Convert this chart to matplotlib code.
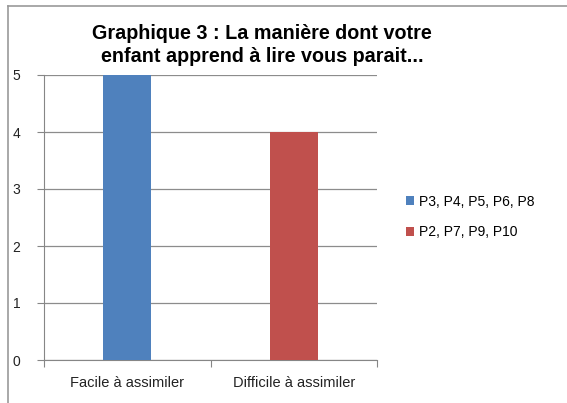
import matplotlib
matplotlib.use('Agg')
import matplotlib.pyplot as plt
from matplotlib.lines import Line2D
from matplotlib.patches import Patch

categories = ['Facile à assimiler', 'Difficile à assimiler']
series_names = ['P3, P4, P5, P6, P8', 'P2, P7, P9, P10']
values = [5, 4]
colors = ['#4F81BD', '#C0504D']
yticks = [0, 1, 2, 3, 4, 5]

plt.rcParams['font.family'] = ['Liberation Sans', 'DejaVu Sans']

fig = plt.figure(figsize=(5.67, 4.03), dpi=100)
ax = fig.add_axes([44/567, 43/403, 333/567, 285/403])

x = range(len(categories))
for i in x:
    ax.bar(i, values[i], width=0.29, color=colors[i], zorder=3)

ax.set_xlim(-0.5, 1.5)
ax.set_ylim(0, 5)
ax.set_yticks(yticks)
ax.set_yticklabels([str(t) for t in yticks], fontsize=10, color='#222222')
ax.yaxis.grid(True, color='#8c8c8c', linewidth=0.9, zorder=0)
ax.tick_params(axis='y', length=5, color='#868686', pad=12)

# category labels at centers, tick marks at category boundaries
ax.set_xticks([-0.5, 0.5, 1.5])
ax.set_xticklabels(['', '', ''])
ax.tick_params(axis='x', length=5, color='#868686')
for i, c in enumerate(categories):
    ax.text(i, -0.4, c, ha='center', va='center', fontsize=10.5, color='#222222')

for s in ['top', 'right']:
    ax.spines[s].set_visible(False)
for s in ['left', 'bottom']:
    ax.spines[s].set_color('#868686')

fig.text(262/567, 1 - 45/403, 'Graphique 3 : La manière dont votre\nenfant apprend à lire vous parait...',
         ha='center', va='center', fontsize=14.2, fontweight='bold', linespacing=1.25)

handles = [Patch(facecolor=colors[i], label=series_names[i]) for i in range(2)]
fig.legend(handles=handles, loc='center left', bbox_to_anchor=(393/567, 1 - 217/403),
           frameon=False, fontsize=10, handlelength=0.6, handleheight=0.6,
           handletextpad=0.4, labelspacing=1.2)

# outer chart border (top and left visible)
fig.add_artist(Line2D([8/567, 1], [1 - 6/403, 1 - 6/403], transform=fig.transFigure, color='#999999', linewidth=1.2))
fig.add_artist(Line2D([8/567, 8/567], [0, 1 - 6/403], transform=fig.transFigure, color='#999999', linewidth=1.2))

fig.savefig('out.png', dpi=100)
